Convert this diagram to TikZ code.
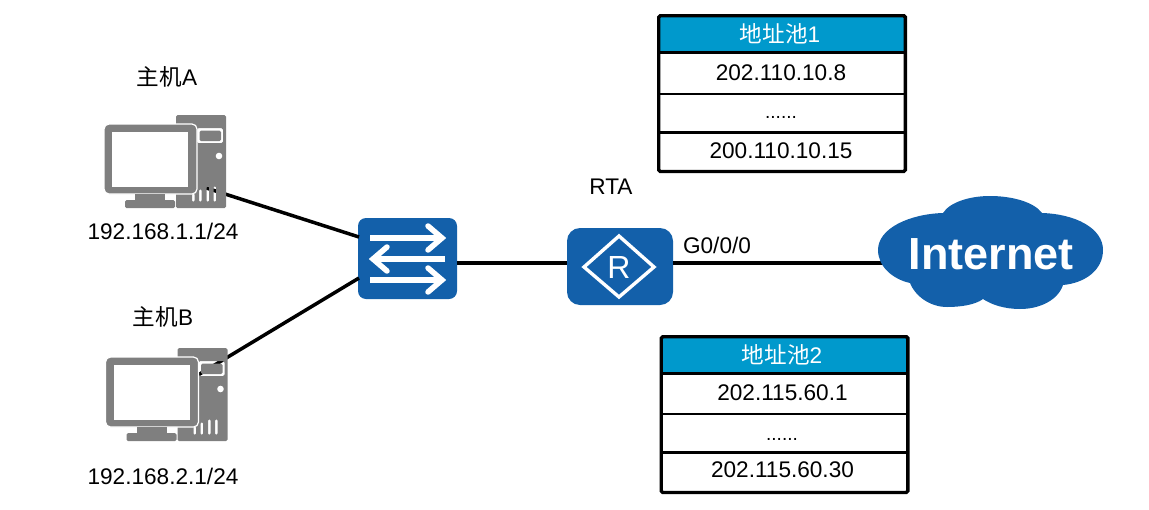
\documentclass[tikz,border=0pt]{standalone}
\usepackage{fontspec}
\setmainfont{Liberation Sans}
\newfontfamily\cjk{Noto Sans CJK SC}
\definecolor{netblue}{HTML}{1360AA}
\definecolor{pcgray}{HTML}{7F7F7F}
\definecolor{poolhead}{HTML}{0099CC}
\tikzset{
  label text/.style={font=\fontsize{22.6}{26}\selectfont, inner sep=0pt, text=black},
  head text/.style={label text, text=white},
  dots text/.style={label text, font=\fontsize{19}{22}\selectfont, anchor=base},
  link/.style={line width=3.5pt, black},
  device/.style={fill=netblue, inner sep=0pt, rounded corners=8pt},
  icon line/.style={white, line width=6pt},
  chevron/.style={white, line width=5.5pt, line cap=round, line join=miter},
  pool rule/.style={black, line width=2.6pt},
  pool border/.style={black, line width=3.4pt, rounded corners=1.5pt},
  pc/.pic={
    % tower: bay ring and vent slots are cut out, so a cable behind stays visible
    \fill[pcgray, even odd rule, rounded corners=1.5pt]
      (0,0) rectangle (50,93)
      (21,13) rectangle (47,28)
      (23.5,15.5) rectangle (45,26)
      (16,78) rectangle (18.6,87)
      (23,74) rectangle (25.6,87)
      (30.5,71) rectangle (33.1,87)
      (37.5,71) rectangle (40.1,87);
    \fill[white] (43,41) circle (3.3);
    % monitor with a thin light halo
    \fill[pcgray, draw=white, line width=1.2pt, rounded corners=5pt] (-72,9) rectangle (21,79);
    \fill[white] (-64,17) rectangle (12,72);
    \fill[pcgray] (-41,79) rectangle (-11,85);
    \fill[pcgray, rounded corners=1.5pt] (-51,85) rectangle (-1,93);
  }
}
\begin{document}
\begin{tikzpicture}[x=1pt, y=-1pt]
\useasboundingbox (0,0) rectangle (1149,509);

% devices that the links attach to
\node[device, minimum width=99pt, minimum height=81pt] (switch) at (407.5,258.5) {};
\node[device, rounded corners=13pt, minimum width=106pt, minimum height=77pt] (router) at (620,266.5) {};
\coordinate (hostAport) at (197,185);
\coordinate (hostBport) at (198,375);
\coordinate (switchA) at (359,237);
\coordinate (switchB) at (359,278);
\coordinate (switchE) at (457,263);
\coordinate (routerW) at (567,263);
\coordinate (routerE) at (673,263);
\coordinate (cloudW) at (884,263);

% links
\draw[link] (hostAport) -- (switchA);
\draw[link] (hostBport) -- (switchB);
\draw[link] (switchE) -- (routerW);
\draw[link] (routerE) -- (cloudW);

% hosts
\pic at (176,115) {pc};
\pic at (177.5,348) {pc};
\node[label text] (nameA) at (167,77) {{\cjk 主机}A};
\node[label text] (ipA) at (163,231) {192.168.1.1/24};
\node[label text] (nameB) at (163,317) {{\cjk 主机}B};
\node[label text] (ipB) at (163,476) {192.168.2.1/24};

% switch symbol
\draw[icon line] (370,238) -- (441,238);
\draw[chevron] (428,226) -- (442,238) -- (428,250);
\draw[icon line] (445,259) -- (375,259);
\draw[chevron] (387,247) -- (373,259) -- (387,271);
\draw[icon line] (370,280) -- (441,280);
\draw[chevron] (428,268) -- (442,280) -- (428,292);

% router symbol
\draw[white, line width=3.4pt, line join=miter] (584,267) -- (619,236) -- (654,267) -- (619,297) -- cycle;
\node[inner sep=0pt, text=white, font=\fontsize{32}{32}\selectfont] (routerR) at (619,267) {R};
\node[label text] (rta) at (611,187) {RTA};
\node[label text] (port) at (717,245) {G0/0/0};

% Internet cloud
\fill[netblue] (878,250)
  .. controls (878,228) and (910,214) .. (943,213)
  .. controls (950,202) and (970,196) .. (990,196)
  .. controls (1012,196) and (1034,202) .. (1042,213)
  .. controls (1075,214) and (1103,228) .. (1103,250)
  .. controls (1103,270) and (1085,283) .. (1063,285)
  .. controls (1058,300) and (1040,309) .. (1020,309)
  .. controls (1005,309) and (992,305) .. (983,299)
  .. controls (975,305) and (960,307) .. (947,307)
  .. controls (930,307) and (915,296) .. (910,283)
  .. controls (892,279) and (878,266) .. (878,250) -- cycle;
\node[inner sep=0pt, text=white, font=\fontsize{45}{45}\selectfont\bfseries] (internet) at (991,254) {Internet};

% address pool 1
\fill[poolhead] (658.5,16) rectangle (905.5,52);
\draw[pool rule] (658,52.5) -- (906,52.5);
\draw[pool rule] (658,94) -- (906,94);
\draw[pool rule] (658,132.5) -- (906,132.5);
\draw[pool border] (658.7,15.7) rectangle (905.3,171.5);
\node[head text] (pool1) at (780,34) {{\cjk 地址池}1};
\node[label text] (pool1a) at (781,73) {202.110.10.8};
\node[dots text] (pool1b) at (781,118) {......};
\node[label text] (pool1c) at (781,151) {200.110.10.15};

% address pool 2
\fill[poolhead] (661,337) rectangle (908,373);
\draw[pool rule] (660.5,373.5) -- (908.5,373.5);
\draw[pool rule] (660.5,414) -- (908.5,414);
\draw[pool rule] (660.5,452.5) -- (908.5,452.5);
\draw[pool border] (661.2,336.7) rectangle (907.8,492.5);
\node[head text] (pool2) at (782,355) {{\cjk 地址池}2};
\node[label text] (pool2a) at (782.5,393) {202.115.60.1};
\node[dots text] (pool2b) at (782,440) {......};
\node[label text] (pool2c) at (782.5,470) {202.115.60.30};
\end{tikzpicture}
\end{document}
